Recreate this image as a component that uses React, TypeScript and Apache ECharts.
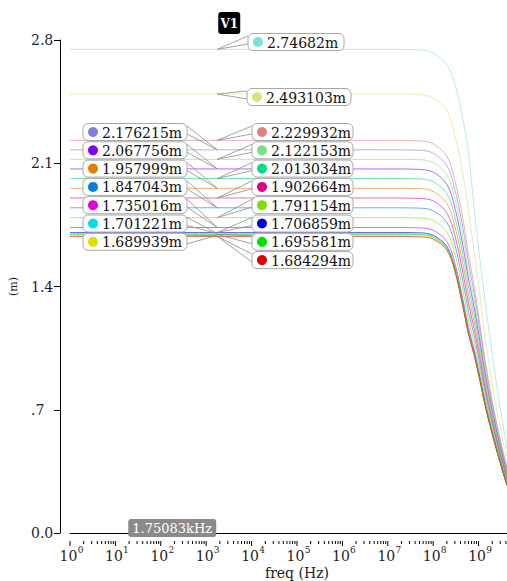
import React, { useEffect, useRef } from 'react';
import * as echarts from 'echarts';

// Sweep frequencies (Hz) at which every trace is sampled
const freqs = [1, 1e7, 5e7, 1e8, 2e8, 3e8, 4.5e8, 6e8, 8e8, 1e9, 1.5e9, 2.5e9, 4.2e9];

// Cursor position and the trace values read there (flat band level)
const cursorFreq = 1750.83;
const cursorValues = [
  2.74682, 2.493103, 2.229932, 2.176215, 2.122153, 2.067756, 2.013034, 1.957999,
  1.902664, 1.847043, 1.791154, 1.735016, 1.706859, 1.701221, 1.695581, 1.689939, 1.684294,
];

// High-frequency roll-off of each trace, at freqs[2..]
const rollOff = [
  [2.744, 2.725, 2.66, 2.55, 2.35, 2.16, 1.84, 1.62, 1.25, 0.84, 0.48],
  [2.49, 2.47, 2.4, 2.26, 2.04, 1.82, 1.6, 1.41, 1.05, 0.7, 0.43],
  [2.227, 2.21, 2.14, 2.003, 1.784, 1.583, 1.399, 1.238, 0.929, 0.624, 0.375],
  [2.174, 2.157, 2.087, 1.951, 1.733, 1.536, 1.359, 1.203, 0.905, 0.609, 0.364],
  [2.12, 2.103, 2.034, 1.899, 1.682, 1.489, 1.319, 1.169, 0.881, 0.593, 0.353],
  [2.065, 2.049, 1.98, 1.847, 1.631, 1.443, 1.279, 1.134, 0.856, 0.578, 0.342],
  [2.011, 1.995, 1.927, 1.795, 1.58, 1.396, 1.239, 1.1, 0.832, 0.562, 0.332],
  [1.956, 1.94, 1.872, 1.743, 1.53, 1.35, 1.2, 1.065, 0.807, 0.546, 0.321],
  [1.9, 1.886, 1.818, 1.69, 1.48, 1.304, 1.16, 1.031, 0.783, 0.53, 0.311],
  [1.845, 1.83, 1.764, 1.638, 1.429, 1.258, 1.12, 0.996, 0.758, 0.515, 0.3],
  [1.789, 1.775, 1.709, 1.585, 1.379, 1.212, 1.081, 0.962, 0.734, 0.499, 0.289],
  [1.733, 1.719, 1.655, 1.533, 1.329, 1.167, 1.042, 0.928, 0.709, 0.483, 0.279],
  [1.705, 1.691, 1.627, 1.506, 1.304, 1.144, 1.022, 0.911, 0.697, 0.475, 0.274],
  [1.699, 1.686, 1.621, 1.501, 1.299, 1.14, 1.018, 0.908, 0.694, 0.473, 0.273],
  [1.694, 1.68, 1.616, 1.496, 1.294, 1.134, 1.014, 0.904, 0.692, 0.471, 0.271],
  [1.688, 1.675, 1.61, 1.491, 1.289, 1.131, 1.011, 0.901, 0.69, 0.47, 0.27],
  [1.682, 1.669, 1.605, 1.486, 1.285, 1.127, 1.007, 0.898, 0.687, 0.468, 0.269],
];

const traceColors = [
  '#7fdfdf', '#dfdf7f', '#df7f7f', '#7f7fdf', '#7fdf7f', '#7f00ff', '#00df7f', '#df7f00',
  '#df007f', '#007fdf', '#7fdf00', '#df00df', '#0000df', '#00dfdf', '#00df00', '#dfdf00', '#df0000',
];

const yTickLabels = ['0.0', '.7', '1.4', '2.1', '2.8'];

// Decade exponents labelled on the frequency axis
const xTickExponents = [0, 1, 2, 3, 4, 5, 6, 7, 8, 9];

// Where each value callout box sits: side of the tail, box left, box centre y, box width
const calloutLayout = [
  { side: 'right', x: 248, cy: 42, w: 96 },
  { side: 'right', x: 247, cy: 97, w: 104 },
  { side: 'right', x: 252, cy: 132, w: 101 },
  { side: 'left', x: 83, cy: 132, w: 104 },
  { side: 'right', x: 252, cy: 150.3, w: 101 },
  { side: 'left', x: 83, cy: 150.3, w: 104 },
  { side: 'right', x: 252, cy: 168.6, w: 101 },
  { side: 'left', x: 83, cy: 168.6, w: 104 },
  { side: 'right', x: 252, cy: 186.9, w: 101 },
  { side: 'left', x: 83, cy: 186.9, w: 104 },
  { side: 'right', x: 252, cy: 205.2, w: 101 },
  { side: 'left', x: 83, cy: 205.2, w: 104 },
  { side: 'right', x: 252, cy: 223.5, w: 101 },
  { side: 'left', x: 83, cy: 223.5, w: 104 },
  { side: 'right', x: 252, cy: 241.8, w: 101 },
  { side: 'left', x: 83, cy: 241.8, w: 104 },
  { side: 'right', x: 252, cy: 260.1, w: 101 },
];

// Decade subdivisions (2..9) for the log frequency axis
const minorTicks: number[] = [];
for (let d = 0; d < 10; d++) {
  for (let m = 2; m <= 9; m++) minorTicks.push(m * Math.pow(10, d));
}

const SERIF = 'DejaVu Serif';
const X_LABEL_COLOR = '#2a1c1c';

export default function App() {
  const ref = useRef<HTMLDivElement>(null);

  useEffect(() => {
    if (!ref.current) return;
    const chart = echarts.init(ref.current, undefined, { renderer: 'svg' });

    const traces = cursorValues.map((v, i) => ({
      type: 'line',
      name: `${v}m`,
      data: freqs.map((f, k) => [f, k < 2 ? v : rollOff[i][k - 2]]),
      showSymbol: false,
      smooth: 0.35,
      lineStyle: { color: traceColors[i], width: 1, opacity: 0.6 },
      itemStyle: { color: traceColors[i] },
      z: 2,
    }));

    chart.setOption({
      animation: false,
      grid: { left: 70, right: 0, top: 40, bottom: 48, containLabel: false, outerBoundsMode: 'none' },
      xAxis: {
        type: 'log',
        logBase: 10,
        min: 1,
        max: 1e10,
        offset: 8,
        name: 'freq (Hz)',
        nameLocation: 'middle',
        nameGap: 25,
        nameTextStyle: { fontFamily: SERIF, fontSize: 14, color: '#222' },
        axisLine: { show: true, lineStyle: { color: '#000', width: 1 } },
        axisTick: { show: false },
        axisLabel: { show: false },
        splitLine: { show: false },
      },
      yAxis: {
        type: 'value',
        min: 0,
        max: 2.8,
        interval: 0.7,
        offset: 10,
        name: '(m)',
        nameLocation: 'middle',
        nameGap: 41,
        nameRotate: 90,
        nameTextStyle: { fontFamily: SERIF, fontSize: 11, color: '#1c1c3a' },
        axisLine: { show: true, lineStyle: { color: '#000', width: 1 } },
        axisTick: { show: true, length: 6, lineStyle: { color: '#000' } },
        splitLine: { show: false },
        axisLabel: {
          align: 'left',
          margin: 29,
          fontFamily: SERIF,
          fontSize: 14,
          color: '#1c1c3a',
          formatter: (_v: number, i: number) => yTickLabels[i],
        },
      },
      series: [
        ...traces,
        // minor ticks of the frequency axis
        {
          type: 'custom',
          coordinateSystem: 'cartesian2d',
          clip: false,
          silent: true,
          data: minorTicks.map((f) => [f, 0]),
          renderItem: (_p: any, api: any) => {
            const pt = api.coord([api.value(0), 0]);
            return {
              type: 'line',
              shape: { x1: pt[0], y1: pt[1] + 8, x2: pt[0], y2: pt[1] + 11 },
              style: { stroke: '#000', lineWidth: 1 },
            };
          },
        },
        // decade ticks with 10^n labels
        {
          type: 'custom',
          coordinateSystem: 'cartesian2d',
          clip: false,
          silent: true,
          data: xTickExponents.map((e) => [Math.pow(10, e), 0, e]),
          renderItem: (_p: any, api: any) => {
            const pt = api.coord([api.value(0), 0]);
            const e = api.value(2);
            return {
              type: 'group',
              children: [
                {
                  type: 'line',
                  shape: { x1: pt[0], y1: pt[1] + 8, x2: pt[0], y2: pt[1] + 13 },
                  style: { stroke: '#000', lineWidth: 1 },
                },
                {
                  type: 'text',
                  x: pt[0] - 1.5,
                  y: pt[1] + 22.5,
                  style: {
                    text: '10',
                    fontFamily: SERIF,
                    fontSize: 14,
                    fill: X_LABEL_COLOR,
                    align: 'center',
                    verticalAlign: 'middle',
                  },
                },
                {
                  type: 'text',
                  x: pt[0] + 10.5,
                  y: pt[1] + 16.5,
                  style: {
                    text: String(e),
                    fontFamily: SERIF,
                    fontSize: 9,
                    fill: X_LABEL_COLOR,
                    align: 'center',
                    verticalAlign: 'middle',
                  },
                },
              ],
            };
          },
        },
      ],
    });

    // Cursor annotations: value callouts, trace tag and frequency readout
    const graphics: any[] = [];
    const h = 17;
    cursorValues.forEach((v, i) => {
      const tip = chart.convertToPixel({ xAxisIndex: 0, yAxisIndex: 0 }, [cursorFreq, v]) as number[];
      const L = calloutLayout[i];
      const top = L.cy - h / 2;
      const edgeX = L.side === 'left' ? L.x + L.w : L.x;
      graphics.push({
        type: 'rect',
        shape: { x: L.x, y: top, width: L.w, height: h, r: 5 },
        style: { fill: '#fff', stroke: '#a8a8a8', lineWidth: 1 },
        z: 10,
      });
      graphics.push({
        type: 'polyline',
        shape: { points: [[edgeX, L.cy - 6], [tip[0], tip[1]], [edgeX, L.cy + 2]] },
        style: { stroke: '#8c8c8c', lineWidth: 0.8, fill: null },
        z: 9,
      });
      graphics.push({
        type: 'circle',
        shape: { cx: L.x + 10, cy: L.cy, r: 5 },
        style: { fill: traceColors[i] },
        z: 11,
      });
      graphics.push({
        type: 'text',
        x: L.x + 19,
        y: L.cy + 0.5,
        style: {
          text: `${v}m`,
          fontFamily: SERIF,
          fontSize: 14,
          fill: '#111',
          verticalAlign: 'middle',
          align: 'left',
        },
        z: 11,
      });
    });

    const cx = chart.convertToPixel({ xAxisIndex: 0 }, cursorFreq) as number;
    graphics.push({
      type: 'rect',
      shape: { x: cx + 1, y: 12, width: 22, height: 22, r: 3 },
      style: { fill: '#000' },
      z: 12,
    });
    graphics.push({
      type: 'text',
      x: cx + 12,
      y: 23.5,
      style: {
        text: 'V1',
        fontFamily: SERIF,
        fontWeight: 'bold',
        fontSize: 12,
        fill: '#fff',
        align: 'center',
        verticalAlign: 'middle',
      },
      z: 13,
    });
    graphics.push({
      type: 'rect',
      shape: { x: cx - 89, y: 519, width: 88, height: 18, r: 3 },
      style: { fill: '#8a8a8a' },
      z: 12,
    });
    graphics.push({
      type: 'text',
      x: cx - 45,
      y: 528.5,
      style: {
        text: `${(cursorFreq / 1000).toFixed(5)}kHz`,
        fontFamily: SERIF,
        fontSize: 13,
        fill: '#fff',
        align: 'center',
        verticalAlign: 'middle',
      },
      z: 13,
    });

    chart.setOption({ graphic: graphics });

    return () => chart.dispose();
  }, []);

  return (
    <div style={{ position: 'fixed', left: 0, top: 0, width: 507, height: 581, overflow: 'hidden', background: '#fff' }}>
      <div ref={ref} style={{ width: 524, height: 581 }} />
    </div>
  );
}
